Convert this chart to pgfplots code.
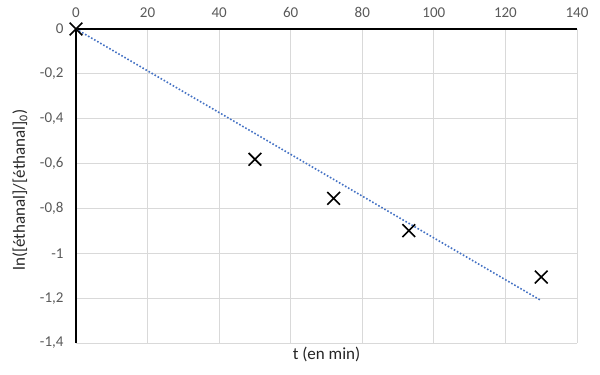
\documentclass[border=0pt]{standalone}
\usepackage{pgfplots}
\pgfplotsset{compat=1.18}
\usepackage{fontspec}
\setmainfont{Carlito}
\definecolor{tickgray}{HTML}{595959}
\definecolor{gridgray}{HTML}{D9D9D9}
\definecolor{trend}{HTML}{4472C4}
\begin{document}
\begin{tikzpicture}[x=1pt,y=1pt]
\begin{axis}[
  at={(76pt,32pt)}, anchor=south west,
  scale only axis, width=501pt, height=314pt,
  xmin=0, xmax=140, ymin=-1.4, ymax=0,
  xtick={0,20,...,140}, ytick={-1.4,-1.2,...,0},
  axis x line*=top, axis y line*=left,
  axis line style={black, line width=1.5pt, -},
  grid=major, grid style={gridgray, line width=0.9pt},
  major tick length=0pt,
  tick label style={font=\fontsize{15}{17}\selectfont, text=tickgray},
  /pgf/number format/assume math mode=true,
  /pgf/number format/use comma,
  /pgf/number format/fixed,
  yticklabel style={xshift=-9pt},
  xticklabel style={yshift=8pt},
  xlabel={t (en min)},
  ylabel={ln([éthanal]/[éthanal]\textsubscript{0})},
  label style={font=\fontsize{17}{19}\selectfont, text=black!85},
  xlabel style={at={(axis description cs:0.5,0)}, anchor=north, yshift=-1pt},
  ylabel style={at={(axis description cs:0,0.5)}, anchor=south, yshift=45pt, xshift=-4pt},
  clip=false,
]
\addplot[trend, line width=1.6pt, dash pattern=on 1.6pt off 1.9pt] coordinates {(0,0) (130,-1.211)};
\addplot[only marks, mark=x, mark size=9pt, mark options={black, line width=1.6pt}] coordinates {
(0,0) (50,-0.581) (72,-0.755) (93,-0.899) (130,-1.106)};
\end{axis}
\pgfresetboundingbox
\path (0,0) rectangle (600pt,375pt);
\end{tikzpicture}
\end{document}
